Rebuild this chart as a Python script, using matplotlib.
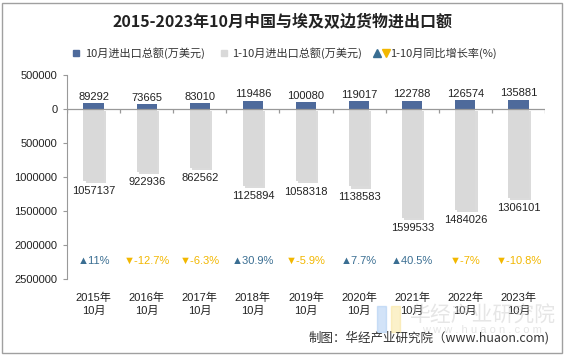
import numpy as np
import matplotlib
matplotlib.use('Agg')
import matplotlib.pyplot as plt
import matplotlib.patheffects as pe
from matplotlib.lines import Line2D
from matplotlib.patches import Rectangle
from matplotlib.legend_handler import HandlerTuple

plt.rcParams['font.family'] = ['Liberation Sans', 'Noto Sans CJK SC', 'DejaVu Sans']

# data
years = ['2015年', '2016年', '2017年', '2018年', '2019年', '2020年', '2021年', '2022年', '2023年']
month_total = [89292, 73665, 83010, 119486, 100080, 119017, 122788, 126574, 135881]
ytd_total = [1057137, 922936, 862562, 1125894, 1058318, 1138583, 1599533, 1484026, 1306101]
ytd_growth = [11, -12.7, -6.3, 30.9, -5.9, 7.7, 40.5, -7, -10.8]

blue = '#4E6A9B'
gray = '#D9D9D9'
up_color = '#3A6E92'
down_color = '#F2B700'

fig = plt.figure(figsize=(5.65, 3.55), dpi=100)
W, H = 565, 355
ax = fig.add_axes([67 / W, 1 - 279 / H, (545 - 67) / W, (279 - 75) / H])

x = np.arange(len(years))
neg_ytd = [-v for v in ytd_total]

gbars = ax.bar(x, neg_ytd, width=0.38, color=gray, zorder=2)
for b in gbars:
    b.set_path_effects([pe.SimplePatchShadow(offset=(1.5, -1.5), shadow_rgbFace='#9A9A9A', alpha=0.35),
                        pe.Normal()])
ax.bar(x, month_total, width=0.38, color=blue, zorder=3)

for xi, v in zip(x, month_total):
    ax.annotate(str(v), (xi, v), xytext=(0, 1), textcoords='offset points',
                ha='center', va='bottom', fontsize=8, color='#222222')
for xi, v in zip(x, neg_ytd):
    ax.annotate(str(-v), (xi, v), xytext=(0, -4), textcoords='offset points',
                ha='center', va='top', fontsize=8, color='#222222')

growth_y = -2235000
for xi, g in zip(x, ytd_growth):
    if g >= 0:
        s, c = '▲' + f'{g:g}%', up_color
    else:
        s, c = '▼' + f'{g:g}%', down_color
    ax.text(xi, growth_y, s, ha='center', va='center', fontsize=8, color=c,
            family=['DejaVu Sans'] if False else ['Liberation Sans', 'DejaVu Sans'])

ax.set_xlim(-0.5, len(years) - 0.5)
ax.set_ylim(-2500000, 500000)
yt = np.arange(-2500000, 500001, 500000)
ax.set_yticks(yt)
ax.set_yticklabels([str(abs(v)) for v in yt], fontsize=8, color='#222222')
ax.tick_params(axis='y', length=3, color='#999999', pad=4)

ax.set_xticks(x)
ax.set_xticklabels([y + '\n10月' for y in years], fontsize=8, color='#222222',
                   family=['Liberation Sans', 'Noto Sans CJK SC'], linespacing=1.3)
ax.tick_params(axis='x', length=0, pad=10)

for s in ['top', 'right', 'bottom']:
    ax.spines[s].set_visible(False)
ax.spines['left'].set_color('#999999')

# zero line with category separators
ax.axhline(0, color='#999999', lw=0.9, zorder=4)
bounds = np.arange(len(years) + 1) - 0.5
ax.vlines(bounds, -60000, 0, color='#999999', lw=0.9, zorder=4)

# title
fig.text(0.5, 1 - 22 / H, '2015-2023年10月中国与埃及双边货物进出口额', ha='center', va='center',
         fontsize=11.5, fontweight='bold', family=['Noto Sans CJK SC'], color='#222222')

# legend
h1 = Line2D([], [], marker='s', color=blue, ls='', markersize=4)
h2 = Line2D([], [], marker='s', color=gray, ls='', markersize=4)
h3a = Line2D([], [], marker='^', color=up_color, ls='', markersize=6)
h3b = Line2D([], [], marker='v', color=down_color, ls='', markersize=6)
leg = fig.legend([h1, h2, (h3a, h3b)],
                 ['10月进出口总额(万美元)', '1-10月进出口总额(万美元)', '1-10月同比增长率(%)'],
                 handler_map={tuple: HandlerTuple(ndivide=None, pad=0.3)},
                 loc='center', bbox_to_anchor=(0.5, 1 - 53 / H), ncol=3, frameon=False,
                 prop={'family': ['Noto Sans CJK SC'], 'size': 8},
                 handlelength=1.4, handletextpad=0.1, columnspacing=1.0)
for t in leg.get_texts():
    t.set_color('#333333')

# watermark
fig.text(482 / W, 1 - 316 / H, '华经产业研究院', ha='center', va='center', fontsize=15,
         color='#C8C8C8', alpha=0.45, family=['Noto Sans CJK SC'], zorder=0)
fig.text(482 / W, 1 - 330 / H, 'w w w . h u a o n . c o m', ha='center', va='center',
         fontsize=8, color='#C8C8C8', alpha=0.45, zorder=0)
fig.patches.append(Rectangle((377 / W, 1 - 332 / H), 9 / W, 26 / H, transform=fig.transFigure,
                             color='#9DC3F0', alpha=0.45, zorder=0))
fig.patches.append(Rectangle((391 / W, 1 - 332 / H), 9 / W, 26 / H, transform=fig.transFigure,
                             color='#F7E08A', alpha=0.45, zorder=0))

# source
fig.text(550 / W, 1 - 338 / H, '制图：华经产业研究院（www.huaon.com)', ha='right', va='center',
         fontsize=9, color='#333333', family=['Noto Sans CJK SC'])

# outer border
fig.patches.append(Rectangle((2 / W, 2 / H), 560 / W, 350 / H, transform=fig.transFigure,
                             fill=False, edgecolor='#A0A0A0', lw=1))

fig.savefig('out.png', dpi=100)
